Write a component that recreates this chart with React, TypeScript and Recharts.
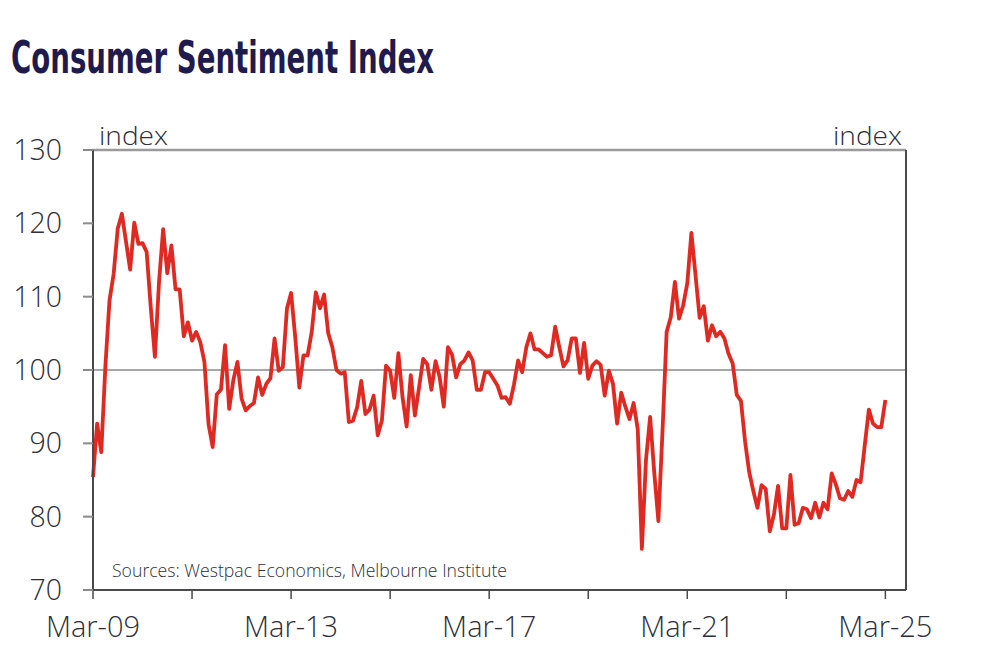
import React from "react";
import { LineChart, Line, XAxis, YAxis, ReferenceLine } from "recharts";

// Monthly index values, Mar-09 onwards (index 0 = Mar-09)
const values2009to2010 = [
  85.4, 92.7, 88.8, 100.5, 109.5, 113.1, 119.3, 121.3, 117.5, 113.7,
  120.1, 117.2, 117.3, 116.1, 108.5, 101.8, 112.0, 119.2, 113.2, 117.0,
  111.0, 111.0, 104.6, 106.5,
];
const values2011to2012 = [
  104.0, 105.2, 103.8, 101.1, 92.6, 89.5, 96.7, 97.3, 103.4, 94.7,
  98.6, 101.1, 96.1, 94.5, 95.1, 95.5, 99.0, 96.6, 98.1, 98.9,
  104.3, 99.9, 100.4, 108.4,
];
const values2013to2014 = [
  110.5, 104.5, 97.6, 102.0, 102.0, 105.2, 110.6, 108.4, 110.3, 105.0,
  103.1, 100.0, 99.5, 99.7, 92.9, 93.1, 94.9, 98.5, 94.0, 94.6,
  96.5, 91.1, 93.1, 100.6,
];
const values2015to2016 = [
  99.9, 96.2, 102.3, 96.3, 92.3, 99.3, 93.8, 97.6, 101.5, 100.8,
  97.3, 101.2, 99.0, 95.0, 103.1, 102.1, 99.0, 100.8, 101.3, 102.4,
  101.3, 97.3, 97.3, 99.7,
];
const values2017to2018 = [
  99.7, 98.8, 97.9, 96.2, 96.3, 95.4, 98.0, 101.3, 99.7, 103.1,
  105.0, 102.8, 102.8, 102.3, 101.8, 102.0, 105.9, 103.1, 100.5, 101.3,
  104.3, 104.3, 99.6, 103.7,
];
const values2019to2020 = [
  98.8, 100.6, 101.2, 100.7, 96.5, 99.9, 98.1, 92.7, 96.9, 95.0,
  93.3, 95.5, 91.9, 75.6, 87.8, 93.6, 86.0, 79.4, 91.7, 105.2,
  107.2, 112.0, 107.0, 108.8,
];
const values2021to2022 = [
  111.8, 118.7, 112.9, 107.1, 108.7, 104.0, 106.1, 104.6, 105.2, 104.3,
  102.2, 100.9, 96.6, 95.8, 90.3, 86.1, 83.5, 81.2, 84.3, 83.8,
  78.0, 80.3, 84.2, 78.4,
];
const values2023to2025 = [
  78.4, 85.7, 78.9, 79.1, 81.2, 81.0, 79.8, 81.9, 79.9, 81.9,
  81.0, 85.9, 84.4, 82.5, 82.3, 83.5, 82.7, 85.0, 84.7, 89.7,
  94.6, 92.7, 92.2, 92.2, 95.9,
];

const sentiment = [
  ...values2009to2010,
  ...values2011to2012,
  ...values2013to2014,
  ...values2015to2016,
  ...values2017to2018,
  ...values2019to2020,
  ...values2021to2022,
  ...values2023to2025,
];

// x-axis ticks (months since Mar-09) and their labels
const xTicks = [0, 24, 48, 72, 96, 120, 144, 168, 192];
const xTickLabels = ["Mar-09", "", "Mar-13", "", "Mar-17", "", "Mar-21", "", "Mar-25"];
const yTicks = [70, 80, 90, 100, 110, 120, 130];

const data = sentiment.map((v, i) => ({ m: i, v }));

const FONT = "'Open Sans', Lato, sans-serif";
const TEXT = "#2f2f3a";
const RED = "#de2a22";

export default function App() {
  return (
    <div style={{ position: "absolute", left: 0, top: 0, width: 1000, height: 655, background: "#fff" }}>
      <LineChart
        width={1000}
        height={655}
        data={data}
        margin={{ top: 150, right: 0, bottom: 0, left: 0 }}
      >
        <XAxis
          dataKey="m"
          type="number"
          domain={[0, 197]}
          ticks={xTicks}
          tickFormatter={(v: number) => xTickLabels[xTicks.indexOf(v)] ?? ""}
          height={65}
          tickSize={9}
          tickMargin={17}
          axisLine={{ stroke: "#4a4a4a", strokeWidth: 2 }}
          tickLine={{ stroke: "#4a4a4a", strokeWidth: 1.5 }}
          tick={{ fill: TEXT, fontSize: 29, fontFamily: FONT, fontWeight: 300 }}
          interval={0}
        />
        <YAxis
          yAxisId="l"
          orientation="left"
          domain={[70, 130]}
          ticks={yTicks}
          width={93}
          tickSize={10}
          tickMargin={21}
          axisLine={{ stroke: "#4a4a4a", strokeWidth: 2 }}
          tickLine={{ stroke: "#8a8a8a", strokeWidth: 2 }}
          tick={{ fill: TEXT, fontSize: 28.5, fontFamily: FONT, fontWeight: 300 }}
          interval={0}
        />
        <YAxis
          yAxisId="r"
          orientation="right"
          domain={[70, 130]}
          ticks={yTicks}
          width={94}
          tickSize={10}
          tickMargin={22}
          axisLine={{ stroke: "#4a4a4a", strokeWidth: 2 }}
          tickLine={{ stroke: "#8a8a8a", strokeWidth: 2 }}
          tick={{ fill: TEXT, fontSize: 28.5, fontFamily: FONT, fontWeight: 300 }}
          interval={0}
        />
        <ReferenceLine yAxisId="l" y={130} stroke="#9a9a9a" strokeWidth={2.5} />
        <ReferenceLine yAxisId="l" y={100} stroke="#8a8a8a" strokeWidth={1.5} />
        <Line
          yAxisId="l"
          type="linear"
          dataKey="v"
          stroke={RED}
          strokeWidth={3.8}
          dot={false}
          isAnimationActive={false}
          strokeLinejoin="round"
        />
      </LineChart>
      <svg
        width={1000}
        height={655}
        style={{ position: "absolute", left: 0, top: 0, pointerEvents: "none" }}
      >
        <text
          x={11}
          y={73}
          fontFamily="'DejaVu Sans Condensed', 'Liberation Sans Narrow', sans-serif"
          fontWeight={900}
          fontSize={44}
          fill="#1f1b4d"
          textLength={423}
          lengthAdjust="spacingAndGlyphs"
        >
          Consumer Sentiment Index
        </text>
        <text x={99} y={145} fontFamily={FONT} fontWeight={300} fontSize={25} fill={TEXT} textLength={69} lengthAdjust="spacingAndGlyphs">
          index
        </text>
        <text x={833} y={145} fontFamily={FONT} fontWeight={300} fontSize={25} fill={TEXT} textLength={69} lengthAdjust="spacingAndGlyphs">
          index
        </text>
        <text x={112} y={577} fontFamily={FONT} fontWeight={300} fontSize={19} fill={TEXT} textLength={395} lengthAdjust="spacingAndGlyphs">
          Sources: Westpac Economics, Melbourne Institute
        </text>
      </svg>
    </div>
  );
}
